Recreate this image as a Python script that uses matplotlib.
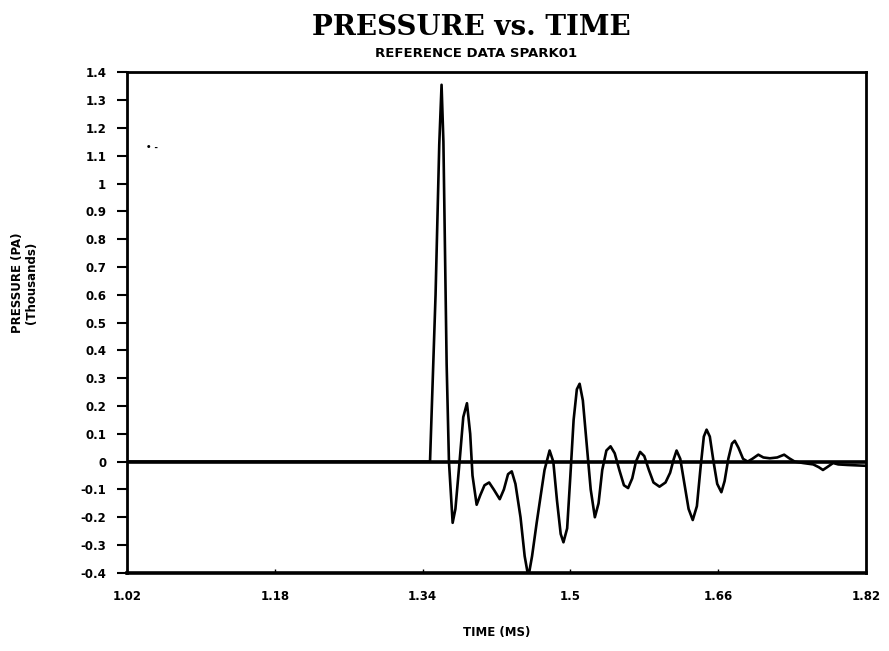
"""
Pressure vs. time trace, reference data SPARK01
"""

import matplotlib
matplotlib.use("Agg")
import matplotlib.pyplot as plt

# time (ms) and pressure (thousands of Pa)
time_ms = [1.020, 1.348, 1.354, 1.358, 1.3605, 1.3625, 1.366, 1.3685, 1.3725, 1.3755,
           1.380, 1.384, 1.388, 1.3915, 1.394, 1.3985, 1.4025, 1.407, 1.412, 1.417,
           1.4235, 1.428, 1.4325, 1.4365, 1.4405, 1.446, 1.4505, 1.4545, 1.4585, 1.4635,
           1.4675, 1.472, 1.4775, 1.4815, 1.4855, 1.4895, 1.4925, 1.4965, 1.500, 1.5035,
           1.507, 1.510, 1.5135, 1.518, 1.522, 1.5265, 1.5305, 1.5345, 1.539, 1.5435,
           1.548, 1.553, 1.558, 1.5625, 1.567, 1.571, 1.5755, 1.580, 1.585, 1.590,
           1.5965, 1.603, 1.608, 1.612, 1.615, 1.619, 1.6235, 1.628, 1.6325, 1.637,
           1.641, 1.6445, 1.6475, 1.651, 1.655, 1.659, 1.6635, 1.667, 1.671, 1.675,
           1.678, 1.682, 1.687, 1.692, 1.697, 1.7035, 1.709, 1.716, 1.724, 1.7315,
           1.737, 1.743, 1.752, 1.763, 1.769, 1.7735, 1.778, 1.7845, 1.790, 1.800,
           1.820]
pressure_k = [0.000, 0.000, 0.60, 1.14, 1.355, 1.15, 0.35, 0.00, -0.22, -0.17,
              0.00, 0.16, 0.21, 0.10, -0.05, -0.155, -0.12, -0.085, -0.075, -0.10,
              -0.135, -0.10, -0.045, -0.035, -0.08, -0.20, -0.34, -0.415, -0.34, -0.22,
              -0.13, -0.03, 0.04, 0.00, -0.14, -0.26, -0.29, -0.24, -0.05, 0.15,
              0.26, 0.28, 0.22, 0.05, -0.10, -0.20, -0.15, -0.03, 0.04, 0.055,
              0.03, -0.03, -0.085, -0.095, -0.06, 0.00, 0.035, 0.02, -0.03, -0.075,
              -0.09, -0.075, -0.04, 0.01, 0.04, 0.01, -0.08, -0.17, -0.21, -0.16,
              -0.02, 0.09, 0.115, 0.09, 0.00, -0.08, -0.11, -0.07, 0.01, 0.065,
              0.075, 0.05, 0.01, 0.00, 0.01, 0.025, 0.015, 0.012, 0.015, 0.025,
              0.012, 0.00, -0.005, -0.01, -0.02, -0.03, -0.02, -0.005, -0.01, -0.012,
              -0.015]

x_ticks = [1.02, 1.18, 1.34, 1.50, 1.66, 1.82]
x_tick_labels = ["1.02", "1.18", "1.34", "1.5", "1.66", "1.82"]
y_ticks = [-0.4, -0.3, -0.2, -0.1, 0, 0.1, 0.2, 0.3, 0.4, 0.5, 0.6, 0.7,
           0.8, 0.9, 1, 1.1, 1.2, 1.3, 1.4]
y_tick_labels = ["-0.4", "-0.3", "-0.2", "-0.1", "0", "0.1", "0.2", "0.3", "0.4",
                 "0.5", "0.6", "0.7", "0.8", "0.9", "1", "1.1", "1.2", "1.3", "1.4"]

fig = plt.figure(figsize=(8.89, 6.51), dpi=100)
ax = fig.add_axes([0.143, 0.120, 0.831, 0.769])

# zero reference line and the trace
ax.axhline(0, color="black", linewidth=2.6)
ax.plot(time_ms, pressure_k, color="black", linewidth=1.9)

ax.set_xlim(1.02, 1.82)
ax.set_ylim(-0.4, 1.4)
ax.set_xticks(x_ticks)
ax.set_xticklabels(x_tick_labels, fontsize=8.5, fontweight="bold")
ax.set_yticks(y_ticks)
ax.set_yticklabels(y_tick_labels, fontsize=8.5, fontweight="bold")
ax.tick_params(axis="y", direction="out", length=7, width=1.5, pad=8)
ax.tick_params(axis="x", direction="in", length=3, width=1, pad=12)
for side in ax.spines.values():
    side.set_linewidth(2)
ax.spines["bottom"].set_linewidth(2.6)

# stray legend mark in the upper left
ax.text(0.026, 0.85, "\u2022 -", transform=ax.transAxes, fontsize=6,
        fontweight="bold", va="center")

fig.text(0.53, 0.958, "PRESSURE vs. TIME", ha="center", va="center",
         fontsize=20, fontweight="bold", family="DejaVu Serif")
fig.text(0.535, 0.918, "REFERENCE DATA SPARK01", ha="center", va="center",
         fontsize=9.5, fontweight="bold")
fig.text(0.5585, 0.029, "TIME (MS)", ha="center", va="center",
         fontsize=8.5, fontweight="bold")
fig.text(0.028, 0.565, "PRESSURE (PA)\n(Thousands)", ha="center", va="center",
         rotation=90, fontsize=8.5, fontweight="bold", linespacing=1.1)

fig.savefig("out.png", dpi=100)
